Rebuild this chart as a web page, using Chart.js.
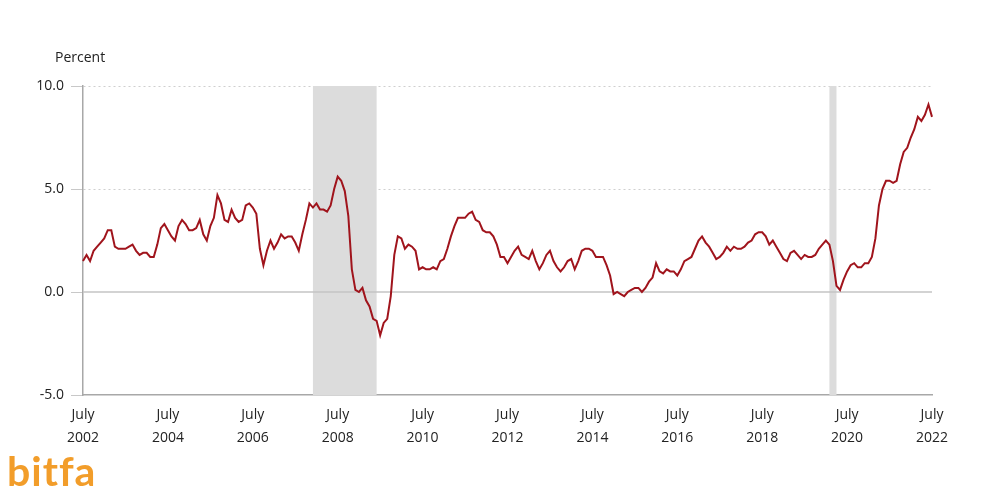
<!DOCTYPE html>
<html>
<head>
<meta charset="utf-8">
<script src="https://cdn.jsdelivr.net/npm/chart.js@4/dist/chart.umd.min.js"></script>
<style>
  html, body { margin: 0; padding: 0; background: #fff; }
  #wrap { position: relative; width: 1000px; height: 500px; }
  #unit { position: absolute; left: 55px; top: 47px; font: 14px "Open Sans", sans-serif; color: #222; }
  #logo { position: absolute; left: 7px; top: 446px; font: bold 41px "Lato", sans-serif; color: #f29d2a; letter-spacing: 1px; }
</style>
</head>
<body>
<div id="wrap">
  <canvas id="myChart" width="1000" height="500"></canvas>
  <div id="unit">Percent</div>
  <div id="logo">bitfa</div>
</div>
<script>
// 12-month percent change, monthly, July 2002 - July 2022
const startYear = 2002;
const startMonth = 7;
const cpiChange = [
  // 2002 Jul-Dec
  1.5, 1.8, 1.5, 2.0, 2.2, 2.4,
  // 2003
  2.6, 3.0, 3.0, 2.2, 2.1, 2.1, 2.1, 2.2, 2.3, 2.0, 1.8, 1.9,
  // 2004
  1.9, 1.7, 1.7, 2.3, 3.1, 3.3, 3.0, 2.7, 2.5, 3.2, 3.5, 3.3,
  // 2005
  3.0, 3.0, 3.1, 3.5, 2.8, 2.5, 3.2, 3.6, 4.7, 4.3, 3.5, 3.4,
  // 2006
  4.0, 3.6, 3.4, 3.5, 4.2, 4.3, 4.1, 3.8, 2.1, 1.3, 2.0, 2.5,
  // 2007
  2.1, 2.4, 2.8, 2.6, 2.7, 2.7, 2.4, 2.0, 2.8, 3.5, 4.3, 4.1,
  // 2008
  4.3, 4.0, 4.0, 3.9, 4.2, 5.0, 5.6, 5.4, 4.9, 3.7, 1.1, 0.1,
  // 2009
  0.0, 0.2, -0.4, -0.7, -1.3, -1.4, -2.1, -1.5, -1.3, -0.2, 1.8, 2.7,
  // 2010
  2.6, 2.1, 2.3, 2.2, 2.0, 1.1, 1.2, 1.1, 1.1, 1.2, 1.1, 1.5,
  // 2011
  1.6, 2.1, 2.7, 3.2, 3.6, 3.6, 3.6, 3.8, 3.9, 3.5, 3.4, 3.0,
  // 2012
  2.9, 2.9, 2.7, 2.3, 1.7, 1.7, 1.4, 1.7, 2.0, 2.2, 1.8, 1.7,
  // 2013
  1.6, 2.0, 1.5, 1.1, 1.4, 1.8, 2.0, 1.5, 1.2, 1.0, 1.2, 1.5,
  // 2014
  1.6, 1.1, 1.5, 2.0, 2.1, 2.1, 2.0, 1.7, 1.7, 1.7, 1.3, 0.8,
  // 2015
  -0.1, 0.0, -0.1, -0.2, 0.0, 0.1, 0.2, 0.2, 0.0, 0.2, 0.5, 0.7,
  // 2016
  1.4, 1.0, 0.9, 1.1, 1.0, 1.0, 0.8, 1.1, 1.5, 1.6, 1.7, 2.1,
  // 2017
  2.5, 2.7, 2.4, 2.2, 1.9, 1.6, 1.7, 1.9, 2.2, 2.0, 2.2, 2.1,
  // 2018
  2.1, 2.2, 2.4, 2.5, 2.8, 2.9, 2.9, 2.7, 2.3, 2.5, 2.2, 1.9,
  // 2019
  1.6, 1.5, 1.9, 2.0, 1.8, 1.6, 1.8, 1.7, 1.7, 1.8, 2.1, 2.3,
  // 2020
  2.5, 2.3, 1.5, 0.3, 0.1, 0.6, 1.0, 1.3, 1.4, 1.2, 1.2, 1.4,
  // 2021
  1.4, 1.7, 2.6, 4.2, 5.0, 5.4, 5.4, 5.3, 5.4, 6.2, 6.8, 7.0,
  // 2022 Jan-Jul
  7.5, 7.9, 8.5, 8.3, 8.6, 9.1, 8.5
];

// shaded recession periods (start, end month)
const recessionStarts = ["2007-12", "2020-02"];
const recessionEnds = ["2009-06", "2020-04"];

const yTicks = [-5, 0, 5, 10];

const months = [];
for (let i = 0; i < cpiChange.length; i++) {
  const m = startMonth - 1 + i;
  const y = startYear + Math.floor(m / 12);
  months.push(y + "-" + String((m % 12) + 1).padStart(2, "0"));
}

const shadePlugin = {
  id: "shade",
  beforeDatasetsDraw(chart) {
    const { ctx, chartArea, scales } = chart;
    ctx.save();
    ctx.fillStyle = "#dcdcdc";
    recessionStarts.forEach((s, i) => {
      const x1 = scales.x.getPixelForValue(months.indexOf(s));
      const x2 = scales.x.getPixelForValue(months.indexOf(recessionEnds[i]));
      ctx.fillRect(x1, chartArea.top, Math.max(x2 - x1, 6), chartArea.bottom - chartArea.top);
    });
    // zero line
    const y0 = scales.y.getPixelForValue(0);
    ctx.strokeStyle = "#c4c4c4";
    ctx.lineWidth = 1.5;
    ctx.beginPath();
    ctx.moveTo(chartArea.left, y0);
    ctx.lineTo(chartArea.right, y0);
    ctx.stroke();
    ctx.restore();
  },
};

const ctx = document.getElementById("myChart").getContext("2d");
new Chart(ctx, {
  type: "line",
  data: {
    labels: months,
    datasets: [
      {
        data: cpiChange,
        borderColor: "#a0141c",
        borderWidth: 2,
        pointRadius: 0,
        tension: 0,
      },
    ],
  },
  options: {
    responsive: false,
    animation: false,
    layout: { padding: { top: 86, right: 68, left: 0, bottom: 0 } },
    plugins: { legend: { display: false }, tooltip: { enabled: false } },
    scales: {
      x: {
        grid: { display: false },
        border: { display: true, color: "#a8a8a8", width: 1.5 },
        afterFit: (scale) => { scale.height = 105; },
        ticks: {
          autoSkip: false,
          maxRotation: 0,
          padding: 0,
          color: "#222",
          font: { family: "Open Sans", size: 14, lineHeight: 1.65 },
          callback: function (value) {
            const label = months[value];
            const yr = parseInt(label.slice(0, 4));
            if (label.slice(5) === "07" && yr % 2 === 0) return ["July", String(yr)];
            return null;
          },
        },
      },
      y: {
        min: -5,
        max: 10,
        afterFit: (scale) => { scale.width = 83; },
        afterBuildTicks: (scale) => { scale.ticks = yTicks.map((v) => ({ value: v })); },
        grid: {
          color: (c) => (c.tick && c.tick.value > 0 ? "#cfcfcf" : "rgba(0,0,0,0)"),
          tickColor: "#c8c8c8",
          tickLength: 12,
          lineWidth: 1,
        },
        border: { display: true, color: "#a8a8a8", width: 1.5, dash: [2, 3] },
        ticks: {
          padding: 7,
          color: "#222",
          font: { family: "Open Sans", size: 14 },
          callback: (v) => v.toFixed(1),
        },
      },
    },
  },
  plugins: [shadePlugin],
});
</script>
</body>
</html>
